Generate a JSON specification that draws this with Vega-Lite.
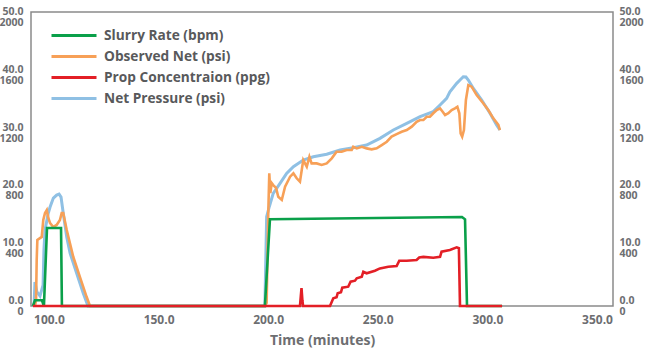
{
  "$schema": "https://vega.github.io/schema/vega-lite/v6.json",
  "autosize": {"type": "none"},
  "padding": {"left": 31, "top": 12, "right": 34, "bottom": 50},
  "width": 582,
  "height": 294,
  "background": "white",
  "config": {
    "font": "Open Sans",
    "view": {"stroke": "#8a8a8a", "strokeWidth": 1.5},
    "axis": {"grid": false, "ticks": false, "domain": false, "labelFlush": false, "labelOverlap": false, "labelBound": false, "labelFont": "Open Sans", "labelFontWeight": "bold", "labelColor": "#6d6e71"}
  },
  "data": {"values": [
    {"s": "Net Pressure (psi)", "t": 93.2, "v": 0},
    {"s": "Net Pressure (psi)", "t": 93.6, "v": 166},
    {"s": "Net Pressure (psi)", "t": 94.5, "v": 97},
    {"s": "Net Pressure (psi)", "t": 95.9, "v": 69},
    {"s": "Net Pressure (psi)", "t": 97.3, "v": 145},
    {"s": "Net Pressure (psi)", "t": 97.7, "v": 387},
    {"s": "Net Pressure (psi)", "t": 98.2, "v": 526},
    {"s": "Net Pressure (psi)", "t": 99.7, "v": 644},
    {"s": "Net Pressure (psi)", "t": 100.5, "v": 685},
    {"s": "Net Pressure (psi)", "t": 102.0, "v": 747},
    {"s": "Net Pressure (psi)", "t": 103.5, "v": 768},
    {"s": "Net Pressure (psi)", "t": 104.6, "v": 775},
    {"s": "Net Pressure (psi)", "t": 105.5, "v": 754},
    {"s": "Net Pressure (psi)", "t": 106.5, "v": 644},
    {"s": "Net Pressure (psi)", "t": 108.1, "v": 478},
    {"s": "Net Pressure (psi)", "t": 109.6, "v": 367},
    {"s": "Net Pressure (psi)", "t": 112.6, "v": 228},
    {"s": "Net Pressure (psi)", "t": 115.6, "v": 90},
    {"s": "Net Pressure (psi)", "t": 117.8, "v": 0},
    {"s": "Net Pressure (psi)", "t": 198.5, "v": 0},
    {"s": "Net Pressure (psi)", "t": 199.3, "v": 618},
    {"s": "Net Pressure (psi)", "t": 200.5, "v": 687},
    {"s": "Net Pressure (psi)", "t": 202.3, "v": 780},
    {"s": "Net Pressure (psi)", "t": 205.4, "v": 849},
    {"s": "Net Pressure (psi)", "t": 208.4, "v": 918},
    {"s": "Net Pressure (psi)", "t": 211.5, "v": 964},
    {"s": "Net Pressure (psi)", "t": 216.0, "v": 1010},
    {"s": "Net Pressure (psi)", "t": 220.6, "v": 1033},
    {"s": "Net Pressure (psi)", "t": 226.7, "v": 1050},
    {"s": "Net Pressure (psi)", "t": 232.8, "v": 1080},
    {"s": "Net Pressure (psi)", "t": 238.8, "v": 1095},
    {"s": "Net Pressure (psi)", "t": 244.9, "v": 1114},
    {"s": "Net Pressure (psi)", "t": 251.0, "v": 1160},
    {"s": "Net Pressure (psi)", "t": 257.1, "v": 1218},
    {"s": "Net Pressure (psi)", "t": 263.2, "v": 1264},
    {"s": "Net Pressure (psi)", "t": 269.3, "v": 1310},
    {"s": "Net Pressure (psi)", "t": 275.3, "v": 1345},
    {"s": "Net Pressure (psi)", "t": 278.4, "v": 1391},
    {"s": "Net Pressure (psi)", "t": 281.4, "v": 1437},
    {"s": "Net Pressure (psi)", "t": 282.9, "v": 1483},
    {"s": "Net Pressure (psi)", "t": 286.0, "v": 1541},
    {"s": "Net Pressure (psi)", "t": 287.5, "v": 1564},
    {"s": "Net Pressure (psi)", "t": 289.0, "v": 1587},
    {"s": "Net Pressure (psi)", "t": 290.2, "v": 1585},
    {"s": "Net Pressure (psi)", "t": 291.3, "v": 1564},
    {"s": "Net Pressure (psi)", "t": 293.6, "v": 1506},
    {"s": "Net Pressure (psi)", "t": 297.4, "v": 1426},
    {"s": "Net Pressure (psi)", "t": 301.2, "v": 1334},
    {"s": "Net Pressure (psi)", "t": 304.2, "v": 1253},
    {"s": "Net Pressure (psi)", "t": 305.7, "v": 1218},

    {"s": "Observed Net (psi)", "t": 93.6, "v": 0},
    {"s": "Observed Net (psi)", "t": 94.1, "v": 41},
    {"s": "Observed Net (psi)", "t": 94.4, "v": 318},
    {"s": "Observed Net (psi)", "t": 94.7, "v": 457},
    {"s": "Observed Net (psi)", "t": 96.7, "v": 478},
    {"s": "Observed Net (psi)", "t": 97.4, "v": 595},
    {"s": "Observed Net (psi)", "t": 98.2, "v": 644},
    {"s": "Observed Net (psi)", "t": 99.0, "v": 664},
    {"s": "Observed Net (psi)", "t": 99.7, "v": 609},
    {"s": "Observed Net (psi)", "t": 100.5, "v": 574},
    {"s": "Observed Net (psi)", "t": 102.0, "v": 547},
    {"s": "Observed Net (psi)", "t": 103.5, "v": 561},
    {"s": "Observed Net (psi)", "t": 105.0, "v": 595},
    {"s": "Observed Net (psi)", "t": 105.8, "v": 644},
    {"s": "Observed Net (psi)", "t": 106.5, "v": 644},
    {"s": "Observed Net (psi)", "t": 108.1, "v": 526},
    {"s": "Observed Net (psi)", "t": 111.1, "v": 339},
    {"s": "Observed Net (psi)", "t": 114.1, "v": 201},
    {"s": "Observed Net (psi)", "t": 117.2, "v": 62},
    {"s": "Observed Net (psi)", "t": 118.7, "v": 0},
    {"s": "Observed Net (psi)", "t": 198.5, "v": 0},
    {"s": "Observed Net (psi)", "t": 199.3, "v": 21},
    {"s": "Observed Net (psi)", "t": 200.0, "v": 618},
    {"s": "Observed Net (psi)", "t": 200.5, "v": 918},
    {"s": "Observed Net (psi)", "t": 201.0, "v": 782},
    {"s": "Observed Net (psi)", "t": 201.6, "v": 851},
    {"s": "Observed Net (psi)", "t": 202.3, "v": 837},
    {"s": "Observed Net (psi)", "t": 203.6, "v": 817},
    {"s": "Observed Net (psi)", "t": 204.6, "v": 756},
    {"s": "Observed Net (psi)", "t": 206.2, "v": 734},
    {"s": "Observed Net (psi)", "t": 207.7, "v": 826},
    {"s": "Observed Net (psi)", "t": 210.0, "v": 895},
    {"s": "Observed Net (psi)", "t": 211.5, "v": 918},
    {"s": "Observed Net (psi)", "t": 213.0, "v": 884},
    {"s": "Observed Net (psi)", "t": 214.5, "v": 860},
    {"s": "Observed Net (psi)", "t": 216.0, "v": 1010},
    {"s": "Observed Net (psi)", "t": 217.6, "v": 964},
    {"s": "Observed Net (psi)", "t": 218.8, "v": 1033},
    {"s": "Observed Net (psi)", "t": 219.8, "v": 987},
    {"s": "Observed Net (psi)", "t": 222.1, "v": 987},
    {"s": "Observed Net (psi)", "t": 224.4, "v": 976},
    {"s": "Observed Net (psi)", "t": 226.7, "v": 987},
    {"s": "Observed Net (psi)", "t": 229.0, "v": 1022},
    {"s": "Observed Net (psi)", "t": 231.2, "v": 1068},
    {"s": "Observed Net (psi)", "t": 233.5, "v": 1068},
    {"s": "Observed Net (psi)", "t": 235.8, "v": 1080},
    {"s": "Observed Net (psi)", "t": 238.1, "v": 1080},
    {"s": "Observed Net (psi)", "t": 238.8, "v": 1102},
    {"s": "Observed Net (psi)", "t": 240.4, "v": 1091},
    {"s": "Observed Net (psi)", "t": 242.7, "v": 1102},
    {"s": "Observed Net (psi)", "t": 244.9, "v": 1091},
    {"s": "Observed Net (psi)", "t": 247.2, "v": 1084},
    {"s": "Observed Net (psi)", "t": 249.5, "v": 1091},
    {"s": "Observed Net (psi)", "t": 251.8, "v": 1114},
    {"s": "Observed Net (psi)", "t": 254.1, "v": 1137},
    {"s": "Observed Net (psi)", "t": 256.3, "v": 1172},
    {"s": "Observed Net (psi)", "t": 258.6, "v": 1190},
    {"s": "Observed Net (psi)", "t": 260.9, "v": 1206},
    {"s": "Observed Net (psi)", "t": 263.2, "v": 1218},
    {"s": "Observed Net (psi)", "t": 265.5, "v": 1241},
    {"s": "Observed Net (psi)", "t": 267.7, "v": 1275},
    {"s": "Observed Net (psi)", "t": 269.3, "v": 1287},
    {"s": "Observed Net (psi)", "t": 270.8, "v": 1287},
    {"s": "Observed Net (psi)", "t": 272.3, "v": 1310},
    {"s": "Observed Net (psi)", "t": 273.8, "v": 1310},
    {"s": "Observed Net (psi)", "t": 275.3, "v": 1334},
    {"s": "Observed Net (psi)", "t": 276.9, "v": 1356},
    {"s": "Observed Net (psi)", "t": 278.4, "v": 1368},
    {"s": "Observed Net (psi)", "t": 279.6, "v": 1345},
    {"s": "Observed Net (psi)", "t": 280.7, "v": 1322},
    {"s": "Observed Net (psi)", "t": 282.2, "v": 1334},
    {"s": "Observed Net (psi)", "t": 283.7, "v": 1356},
    {"s": "Observed Net (psi)", "t": 285.2, "v": 1368},
    {"s": "Observed Net (psi)", "t": 286.3, "v": 1379},
    {"s": "Observed Net (psi)", "t": 287.2, "v": 1334},
    {"s": "Observed Net (psi)", "t": 287.8, "v": 1195},
    {"s": "Observed Net (psi)", "t": 288.5, "v": 1172},
    {"s": "Observed Net (psi)", "t": 289.3, "v": 1218},
    {"s": "Observed Net (psi)", "t": 290.2, "v": 1426},
    {"s": "Observed Net (psi)", "t": 291.3, "v": 1529},
    {"s": "Observed Net (psi)", "t": 292.8, "v": 1518},
    {"s": "Observed Net (psi)", "t": 295.1, "v": 1460},
    {"s": "Observed Net (psi)", "t": 298.1, "v": 1403},
    {"s": "Observed Net (psi)", "t": 300.4, "v": 1356},
    {"s": "Observed Net (psi)", "t": 302.7, "v": 1299},
    {"s": "Observed Net (psi)", "t": 305.0, "v": 1253},
    {"s": "Observed Net (psi)", "t": 305.7, "v": 1218},

    {"s": "Slurry Rate (bpm)", "t": 92.7, "v": 0},
    {"s": "Slurry Rate (bpm)", "t": 93.6, "v": 1.0},
    {"s": "Slurry Rate (bpm)", "t": 96.8, "v": 1.0},
    {"s": "Slurry Rate (bpm)", "t": 97.7, "v": 0},
    {"s": "Slurry Rate (bpm)", "t": 99.1, "v": 13.5},
    {"s": "Slurry Rate (bpm)", "t": 105.5, "v": 13.5},
    {"s": "Slurry Rate (bpm)", "t": 105.9, "v": 0},
    {"s": "Slurry Rate (bpm)", "t": 198.5, "v": 0},
    {"s": "Slurry Rate (bpm)", "t": 200.8, "v": 15.0},
    {"s": "Slurry Rate (bpm)", "t": 288.4, "v": 15.4},
    {"s": "Slurry Rate (bpm)", "t": 289.8, "v": 15.0},
    {"s": "Slurry Rate (bpm)", "t": 290.7, "v": 0},
    {"s": "Slurry Rate (bpm)", "t": 306.7, "v": 0},

    {"s": "Prop Concentraion (ppg)", "t": 92.7, "v": 0},
    {"s": "Prop Concentraion (ppg)", "t": 214.5, "v": 0},
    {"s": "Prop Concentraion (ppg)", "t": 215.2, "v": 3.1},
    {"s": "Prop Concentraion (ppg)", "t": 215.6, "v": 1.0},
    {"s": "Prop Concentraion (ppg)", "t": 215.9, "v": 0},
    {"s": "Prop Concentraion (ppg)", "t": 228.2, "v": 0},
    {"s": "Prop Concentraion (ppg)", "t": 229.7, "v": 1.33},
    {"s": "Prop Concentraion (ppg)", "t": 231.2, "v": 1.5},
    {"s": "Prop Concentraion (ppg)", "t": 231.7, "v": 2.2},
    {"s": "Prop Concentraion (ppg)", "t": 233.2, "v": 2.37},
    {"s": "Prop Concentraion (ppg)", "t": 233.8, "v": 3.17},
    {"s": "Prop Concentraion (ppg)", "t": 236.5, "v": 3.34},
    {"s": "Prop Concentraion (ppg)", "t": 237.6, "v": 4.2},
    {"s": "Prop Concentraion (ppg)", "t": 239.6, "v": 4.38},
    {"s": "Prop Concentraion (ppg)", "t": 240.4, "v": 4.8},
    {"s": "Prop Concentraion (ppg)", "t": 242.7, "v": 5.07},
    {"s": "Prop Concentraion (ppg)", "t": 243.4, "v": 5.93},
    {"s": "Prop Concentraion (ppg)", "t": 244.9, "v": 5.66},
    {"s": "Prop Concentraion (ppg)", "t": 248.7, "v": 6.1},
    {"s": "Prop Concentraion (ppg)", "t": 251.0, "v": 6.5},
    {"s": "Prop Concentraion (ppg)", "t": 254.8, "v": 6.8},
    {"s": "Prop Concentraion (ppg)", "t": 258.6, "v": 6.9},
    {"s": "Prop Concentraion (ppg)", "t": 259.8, "v": 7.84},
    {"s": "Prop Concentraion (ppg)", "t": 263.2, "v": 7.84},
    {"s": "Prop Concentraion (ppg)", "t": 267.7, "v": 7.96},
    {"s": "Prop Concentraion (ppg)", "t": 268.9, "v": 8.4},
    {"s": "Prop Concentraion (ppg)", "t": 270.8, "v": 8.5},
    {"s": "Prop Concentraion (ppg)", "t": 275.3, "v": 8.36},
    {"s": "Prop Concentraion (ppg)", "t": 278.4, "v": 8.5},
    {"s": "Prop Concentraion (ppg)", "t": 279.1, "v": 9.4},
    {"s": "Prop Concentraion (ppg)", "t": 282.9, "v": 9.7},
    {"s": "Prop Concentraion (ppg)", "t": 286.0, "v": 10.15},
    {"s": "Prop Concentraion (ppg)", "t": 287.0, "v": 10.0},
    {"s": "Prop Concentraion (ppg)", "t": 287.5, "v": 0},
    {"s": "Prop Concentraion (ppg)", "t": 306.7, "v": 0}
  ]},
  "encoding": {
    "x": {
      "field": "t", "type": "quantitative",
      "scale": {"domain": [91.8, 357.3], "nice": false, "zero": false},
      "axis": {"values": [100, 150, 200, 250, 300, 350], "format": ".1f", "labelFontSize": 12, "labelPadding": 8,
        "title": "Time (minutes)", "titleFont": "Open Sans", "titleFontSize": 14, "titleFontWeight": "bold", "titleColor": "#6d6e71", "titlePadding": 8}
    },
    "color": {
      "field": "s", "type": "nominal",
      "scale": {
        "domain": ["Slurry Rate (bpm)", "Observed Net (psi)", "Prop Concentraion (ppg)", "Net Pressure (psi)"],
        "range": ["#0aa04a", "#f7a057", "#e31f26", "#8fc0e4"]
      },
      "legend": {
        "orient": "none", "legendX": 32.5, "legendY": 13, "title": null, "padding": 0,
        "symbolType": "M-2.5,0H2.5", "symbolSize": 324, "symbolStrokeWidth": 3,
        "labelFont": "Open Sans", "labelFontSize": 13.7, "labelFontWeight": "bold", "labelColor": "#58595b",
        "labelOffset": 19.5, "rowPadding": 3, "labelLimit": 300
      }
    }
  },
  "layer": [
    {
      "encoding": {
        "y": {
          "field": "v", "type": "quantitative",
          "scale": {"domain": [0, 2034.8], "nice": false},
          "axis": {"orient": "right", "title": null, "values": [0, 400, 800, 1200, 1600, 2000], "labelFontSize": 10.5, "labelPadding": 6, "labelLineHeight": 11, "labelOffset": -5.5,
            "labelExpr": "[format(datum.value/40, '.1f'), format(datum.value, 'd')]"}
        }
      },
      "layer": [
        {"transform": [{"filter": "datum.s === 'Net Pressure (psi)'"}], "mark": {"type": "line", "strokeWidth": 3}},
        {"transform": [{"filter": "datum.s === 'Observed Net (psi)'"}], "mark": {"type": "line", "strokeWidth": 2.6}}
      ]
    },
    {
      "encoding": {
        "y": {
          "field": "v", "type": "quantitative",
          "scale": {"domain": [0, 50.87], "nice": false},
          "axis": {"orient": "left", "title": null, "values": [0, 10, 20, 30, 40, 50], "labelFontSize": 10.5, "labelPadding": 8, "labelLineHeight": 11, "labelOffset": -5.5,
            "labelExpr": "[format(datum.value, '.1f'), format(datum.value*40, 'd')]"}
        }
      },
      "layer": [
        {"transform": [{"filter": "datum.s === 'Slurry Rate (bpm)'"}], "mark": {"type": "line", "strokeWidth": 2.6}},
        {"transform": [{"filter": "datum.s === 'Prop Concentraion (ppg)'"}], "mark": {"type": "line", "strokeWidth": 2.6}}
      ]
    }
  ],
  "resolve": {"scale": {"y": "independent"}}
}
